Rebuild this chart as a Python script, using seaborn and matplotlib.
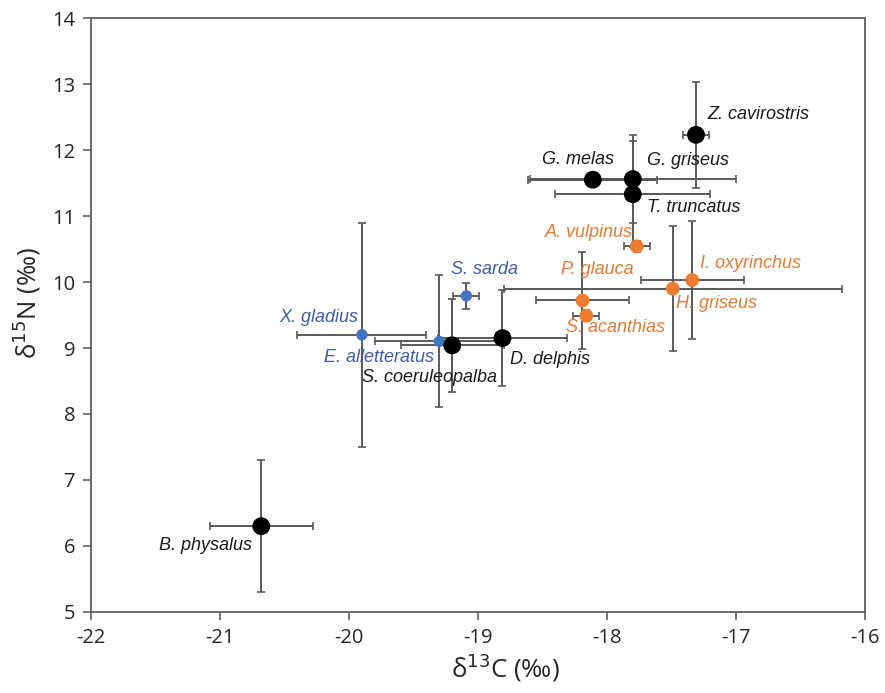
import pandas as pd
import seaborn as sns
import matplotlib.pyplot as plt

# species, group and isotope values
species = ["B. physalus", "X. gladius", "E. alletteratus", "S. coeruleopalba",
           "S. sarda", "D. delphis", "P. glauca", "S. acanthias", "A. vulpinus",
           "G. melas", "G. griseus", "T. truncatus", "H. griseus",
           "I. oxyrinchus", "Z. cavirostris"]
group = ["mammal", "fish", "fish", "mammal", "fish", "mammal", "shark", "shark",
         "shark", "mammal", "mammal", "mammal", "shark", "shark", "mammal"]
d13c = [-20.68, -19.90, -19.30, -19.20, -19.09, -18.81, -18.19, -18.16,
        -17.77, -18.11, -17.80, -17.80, -17.49, -17.34, -17.31]
d15n = [6.30, 9.20, 9.10, 9.04, 9.79, 9.15, 9.72, 9.49, 10.54,
        11.55, 11.56, 11.33, 9.90, 10.03, 12.23]
d13c_sd = [0.40, 0.50, 0.50, 0.40, 0.10, 0.50, 0.36, 0.10, 0.10,
           0.50, 0.80, 0.60, 1.31, 0.40, 0.10]
d15n_sd = [1.00, 1.70, 1.00, 0.70, 0.20, 0.73, 0.73, 0.08, 0.08,
           0.10, 0.67, 0.80, 0.95, 0.90, 0.80]

df = pd.DataFrame({"species": species, "group": group, "x": d13c, "y": d15n,
                   "xerr": d13c_sd, "yerr": d15n_sd})

dot_colors = {"mammal": "#000000", "shark": "#ED7D31", "fish": "#4472C4"}
text_colors = {"mammal": "#1a1a1a", "shark": "#E27B35", "fish": "#3C5DA6"}
dot_sizes = {"mammal": 165, "shark": 100, "fish": 68}

# label placement: (dx px, dy px, ha)
label_pos = {
    "B. physalus": (-9, -19, "right"),
    "X. gladius": (-4, 17, "right"),
    "E. alletteratus": (-5, -16, "right"),
    "S. coeruleopalba": (45, -32, "right"),
    "S. sarda": (-15, 26, "left"),
    "D. delphis": (8, -21, "left"),
    "P. glauca": (-21, 31, "left"),
    "S. acanthias": (-20, -12, "left"),
    "A. vulpinus": (-4, 14, "right"),
    "G. melas": (-15, 20, "center"),
    "G. griseus": (14, 19, "left"),
    "T. truncatus": (14, -13, "left"),
    "H. griseus": (3, -15, "left"),
    "I. oxyrinchus": (8, 17, "left"),
    "Z. cavirostris": (11, 20, "left"),
}

sns.set_style("white")
plt.rcParams["font.family"] = ["Open Sans", "DejaVu Sans"]
plt.rcParams["axes.unicode_minus"] = False

fig = plt.figure(figsize=(8.85, 6.93), dpi=100)
ax = fig.add_axes([0.1028, 0.1169, 0.8746, 0.8571])

ax.errorbar(df["x"], df["y"], xerr=df["xerr"], yerr=df["yerr"], fmt="none",
            ecolor="#595959", elinewidth=1.4, capsize=2.6, capthick=1.2, zorder=2)
sns.scatterplot(data=df, x="x", y="y", hue="group", palette=dot_colors,
                size="group", sizes=dot_sizes, edgecolor="none", legend=False,
                ax=ax, zorder=3)

for _, r in df.iterrows():
    dx, dy, ha = label_pos[r["species"]]
    ax.annotate(r["species"], (r["x"], r["y"]), xytext=(dx, dy),
                textcoords="offset pixels", ha=ha, va="center",
                fontsize=13, style="italic", family=["Liberation Sans", "DejaVu Sans"],
                color=text_colors[r["group"]], zorder=4)

ax.set_xlim(-22, -16)
ax.set_ylim(5, 14)
ax.set_xticks(range(-22, -15))
ax.set_yticks(range(5, 15))
ax.tick_params(axis="both", direction="out", length=5.5, width=1.2,
               color="#5f5f5f", labelsize=14.5, labelcolor="#262626", pad=6,
               bottom=True, left=True)
for s in ax.spines.values():
    s.set_color("#5f5f5f")
    s.set_linewidth(1.3)

ax.set_xlabel("δ$^{13}$C (‰)", fontsize=18.5, color="#262626")
ax.set_ylabel("δ$^{15}$N (‰)", fontsize=18.5, color="#262626")
ax.xaxis.set_label_coords(0.535, -0.066)
ax.yaxis.set_label_coords(-0.062, 0.52)

fig.savefig("out.png", dpi=100)
